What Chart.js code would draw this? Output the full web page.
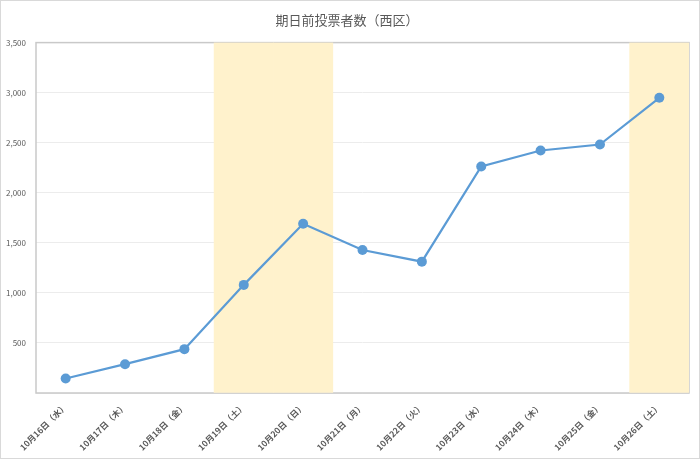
<!DOCTYPE html>
<html lang="ja">
<head>
<meta charset="utf-8">
<script src="https://cdn.jsdelivr.net/npm/chart.js@4"></script>
<style>
  html, body { margin: 0; padding: 0; background: #fff; }
  #wrap { position: relative; width: 700px; height: 459px; box-sizing: border-box; border: 1px solid #d9d9d9; }
</style>
</head>
<body>
<div id="wrap"><canvas id="chart"></canvas></div>
<script>
const labels = ['10月16日（水）', '10月17日（木）', '10月18日（金）', '10月19日（土）', '10月20日（日）',
  '10月21日（月）', '10月22日（火）', '10月23日（水）', '10月24日（木）', '10月25日（金）', '10月26日（土）'];
const voters = [145, 288, 438, 1080, 1690, 1428, 1312, 2263, 2422, 2482, 2949];
const weekend = [false, false, false, true, true, false, false, false, false, false, true];
const yMax = 3500;
const yStep = 500;

const FONT = "'Noto Sans CJK JP', 'Noto Sans', sans-serif";
const TEXT = '#595959';

// plot area outline (drawn under the bars, over the grid)
const plotBorder = {
  id: 'plotBorder',
  beforeDatasetsDraw(chart) {
    const { ctx, chartArea: a } = chart;
    ctx.save();
    ctx.strokeStyle = '#c9c9c9';
    ctx.lineWidth = 1.5;
    ctx.strokeRect(a.left, a.top, a.right - a.left, a.bottom - a.top);
    ctx.restore();
  }
};

new Chart(document.getElementById('chart'), {
  data: {
    labels: labels,
    datasets: [
      {
        type: 'line',
        label: '期日前投票者数',
        data: voters,
        borderColor: '#5b9bd5',
        backgroundColor: '#5b9bd5',
        borderWidth: 2.2,
        pointRadius: 5,
        pointHoverRadius: 5,
        pointBackgroundColor: '#5b9bd5',
        pointBorderWidth: 0,
        tension: 0,
        order: 1
      },
      {
        type: 'bar',
        label: '土日',
        data: weekend.map(w => w ? yMax : null),
        backgroundColor: '#fff2cc',
        borderWidth: 0,
        barPercentage: 1,
        categoryPercentage: 1,
        order: 2
      }
    ]
  },
  options: {
    responsive: true,
    maintainAspectRatio: false,
    animation: false,
    layout: { padding: { left: 4, right: 10, top: 4, bottom: 4 } },
    plugins: {
      legend: { display: false },
      tooltip: { enabled: false },
      title: {
        display: true,
        text: '期日前投票者数（西区）',
        color: TEXT,
        font: { family: FONT, size: 13, weight: 'normal' },
        padding: { top: 7, bottom: 15 }
      }
    },
    scales: {
      x: {
        offset: true,
        grid: { display: false },
        border: { display: false },
        afterFit: s => { s.paddingLeft = 0; s.height = 61; },
        ticks: {
          color: TEXT,
          font: { family: FONT, size: 8.5, weight: 'bold' },
          maxRotation: 45,
          minRotation: 45,
          autoSkip: false,
          padding: 0
        }
      },
      y: {
        min: 0,
        max: yMax,
        grid: { color: '#ececec', lineWidth: 1, drawTicks: false },
        border: { display: false },
        afterFit: s => { s.width = 31; },
        ticks: {
          stepSize: yStep,
          color: TEXT,
          font: { family: FONT, size: 8 },
          padding: 10,
          callback: v => v === 0 ? '' : v.toLocaleString('en-US')
        }
      }
    }
  },
  plugins: [plotBorder]
});
</script>
</body>
</html>
